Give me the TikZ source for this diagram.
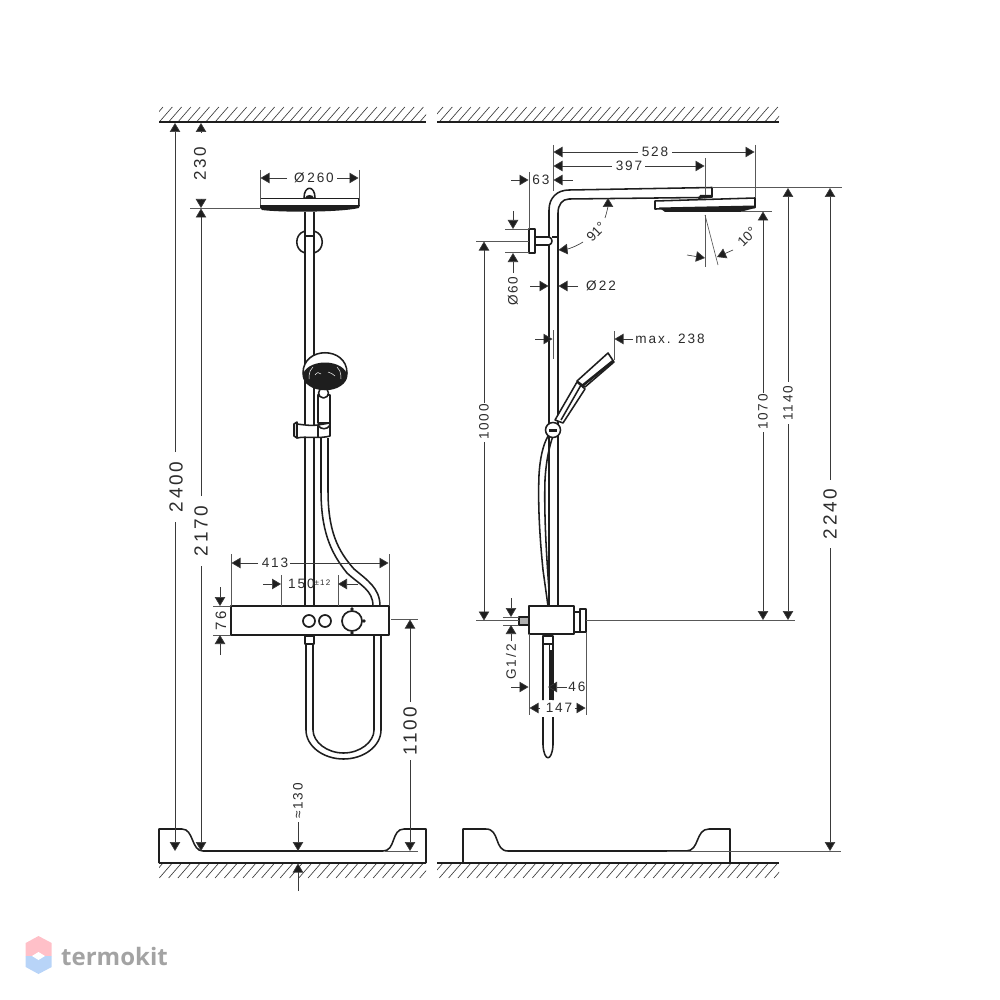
\documentclass[tikz,border=0pt]{standalone}
\usepackage{fontspec}
\setmainfont[LetterSpace=14]{Liberation Sans}
\newfontfamily\markfont{Open Sans}
\usetikzlibrary{arrows.meta}
\definecolor{ink}{HTML}{1E1E1E}
\definecolor{dimc}{HTML}{3A3A3A}
\definecolor{txt}{HTML}{2C2C2C}
\definecolor{markpink}{HTML}{FFC0C8}
\definecolor{markblue}{HTML}{B8D4F8}
\tikzset{
  obj/.style={draw=ink,line width=1.55pt,line join=round},
  dim/.style={draw=dimc,line width=.65pt},
  ext/.style={draw=dimc!85,line width=.65pt},
  arr/.style={dim,arrows={-Triangle[length=9pt,width=10.5pt,fill=ink]}},
  hatch/.style={draw=dimc,line width=.65pt},
  lab/.style={inner sep=0pt,text=txt,font=\fontsize{13.6}{14}\selectfont},
  big/.style={inner sep=0pt,text=txt,font=\fontsize{19}{19}\selectfont},
  mid/.style={inner sep=0pt,text=txt,font=\fontsize{17}{17}\selectfont},
}
\begin{document}
\begin{tikzpicture}[x=1pt,y=-1pt]
\useasboundingbox (0,0) rectangle (1000,1000);
% ---- ceilings and floors
\begin{scope}
\clip (159,107) rectangle (426,122);
\foreach \x in {150,159.3,...,430} \draw[hatch] (\x,122) -- (\x+13,107);
\end{scope}
\begin{scope}
\clip (437,107) rectangle (779,122);
\foreach \x in {430,439.3,...,785} \draw[hatch] (\x,122) -- (\x+13,107);
\end{scope}
\begin{scope}
\clip (159,863) rectangle (426,878);
\foreach \x in {150,159.3,...,430} \draw[hatch] (\x,878) -- (\x+13,863);
\end{scope}
\begin{scope}
\clip (437,863) rectangle (779,878);
\foreach \x in {430,439.3,...,785} \draw[hatch] (\x,878) -- (\x+13,863);
\end{scope}
\draw[obj] (159,122) -- (426,122);
\draw[obj] (437,122) -- (779,122);
\draw[obj] (159,863) -- (426,863);
\draw[obj] (437,863) -- (779,863);
% basins
\draw[obj] (159,863) -- (159,829) -- (182,829) .. controls (194,829) and (191,851) .. (203,851)
  -- (383,851) .. controls (396,851) and (391,829) .. (404,829) -- (426,829) -- (426,863);
\draw[obj] (463,863) -- (463,829) -- (486,829) .. controls (500,829) and (494,851) .. (508,851)
  -- (686,851) .. controls (700,851) and (695,829) .. (709,829) -- (730,829) -- (730,863);

% ---- LEFT VIEW: rod and hoses
\draw[obj] (305,212) -- (305,606) (314,212) -- (314,606);
\draw[obj] (305,236) -- (314,236);
\draw[obj] (305,231) .. controls (294,234) and (294,250) .. (305,253);
\draw[obj] (314,231) .. controls (325,234) and (325,250) .. (314,253);
% hose upper
\draw[obj] (321,438) -- (321,490) .. controls (321,530) and (330,552) .. (347,573) .. controls (360,585) and (373,590) .. (373,606);
\draw[obj] (328,438) -- (328,490) .. controls (328,530) and (337,550) .. (354,569) .. controls (367,580) and (380,588) .. (380,606);
% hose loop
\draw[obj] (306,644) -- (306,730) .. controls (306,746) and (323,759) .. (343.5,759) .. controls (364,759) and (381,746) .. (381,730) -- (381,636);
\draw[obj] (313,644) -- (313,730) .. controls (313,742) and (327,753) .. (343.5,753) .. controls (360,753) and (374,742) .. (374,730) -- (374,636);
\draw[obj,fill=white] (305,636) rectangle (314,644);
% rain head front
\draw[obj,fill=white] (304,198) .. controls (304,185) and (315,185) .. (315,198);
\fill[ink] (305,198) .. controls (306,194) and (313,194) .. (314,198) -- cycle;
\draw[obj,fill=white] (260.5,198.5) rectangle (359,206);
\fill[ink] (260,205.5) -- (359,205.5) -- (359,208) .. controls (340,212.5) and (280,212.5) .. (262,210) -- (260,208) -- cycle;
% hand shower front
\draw[obj,fill=white] (318,395) rectangle (330,423);
\draw[obj,fill=white] (323.5,393) circle (5);
\draw[obj,fill=white] (303,373) .. controls (303,346) and (347,346) .. (347,373) .. controls (347,395) and (303,395) .. (303,373) -- cycle;
\fill[ink] (325,376) ellipse (22 and 13.5);
\draw[white,line width=.5pt] (315,375) .. controls (317,372) and (319,372) .. (321,374) (328,372) .. controls (331,373) and (333,374) .. (335,376)
  (309,379) .. controls (309,371) and (311,369) .. (313,367) (341,379) .. controls (341,371) and (339,369) .. (337,367);
% slider
\draw[obj,fill=white] (297,424) .. controls (305,425) and (312,426) .. (318,425) -- (330,423) -- (330,436) .. controls (320,439) and (305,436) .. (297,438) -- cycle;
\draw[obj,fill=ink!15] (297,422) -- (294,424) -- (294,436) -- (297,438) -- cycle;
\draw[obj] (318,425) .. controls (320,430) and (328,430) .. (330,425);
\draw[obj] (318,425) -- (318,437);
% thermostat front
\draw[obj,line width=1.7pt,fill=white] (231,606) rectangle (389,635);
\draw[obj,line width=1.7pt] (309,621) circle (6);
\draw[obj,line width=1.7pt] (325,621) circle (6);
\draw[obj,line width=1.7pt] (352,621) circle (10);
\fill[ink] (352,609) circle (1.8) (364,621) circle (1.8) (352,633) circle (1.8);

% ---- LEFT VIEW: dimensions
\draw[ext] (190,208) -- (260,208);
\node[big,rotate=90] (d2400) at (176,487) {2400};
\draw[arr] (175,452) -- (175,123);
\draw[arr] (175,522) -- (175,851);
\node[big,rotate=90] (d2170) at (201,531) {2170};
\draw[arr] (201,496) -- (201,208.5);
\draw[arr] (201,566) -- (201,851);
\node[mid,rotate=90] (d230) at (200,164) {230};
\draw[arr] (201,132) -- (201,123);
\draw[arr] (201,199) -- (201,208);
\draw[ext] (260,170) -- (260,205) (359,170) -- (359,205);
\node[lab] (d260) at (314,178) {Ø\hspace{2.5pt}260};
\draw[arr] (287,178) -- (260.5,178);
\draw[arr] (337,178) -- (358.5,178);
\draw[ext] (231,554) -- (231,606) (389,554) -- (389,606);
\node[lab] (d413) at (275,563) {413};
\draw[arr] (258,563) -- (231.5,563);
\draw[arr] (290,563) -- (388.5,563);
\draw[ext] (281,575) -- (281,606) (338,575) -- (338,606);
\node[lab,anchor=west] (d150) at (288,584) {150\raisebox{3.5pt}{\fontsize{8}{8}\selectfont ±12}};
\draw[arr] (263,584) -- (281,584);
\draw[arr] (358,584) -- (338,584);
\draw[ext] (213,606) -- (231,606) (213,635) -- (231,635);
\draw[arr] (220,587) -- (220,606);
\draw[arr] (220,655) -- (220,635);
\node[lab,font=\fontsize{15}{15}\selectfont,rotate=90] (d76) at (221,621) {76};
\draw[ext] (391,619) -- (418,619) (385,851) -- (418,851);
\node[big,rotate=90] (d1100) at (410,731) {1100};
\draw[arr] (410,702) -- (410,619.5);
\draw[arr] (410,760) -- (410,851);
\node[lab,rotate=90] (d130) at (298,801) {≈130};
\draw[arr] (298,822) -- (298,851);
\draw[arr] (298,891) -- (298,863.5);

% ---- RIGHT VIEW: column
\draw[obj] (549,210) .. controls (549,198) and (557,190) .. (569,190) -- (712,187.5) -- (712,197) -- (700,197.5) -- (569,199) .. controls (562,199) and (558,205) .. (558,213) -- (558,606);
\draw[obj] (549,210) -- (549,606);
\fill[ink] (700,195) -- (712,195) -- (712,197.5) -- (698,199) -- cycle;
% rain head side
\draw[obj,fill=white] (655,201) -- (755,198) -- (755,207.5) -- (655,209) -- cycle;
\fill[ink] (659,207.5) -- (755,205.5) -- (755,208) -- (740,212) -- (665,212) -- cycle;
% wall mount
\draw[obj,fill=white] (535,237) -- (549,237) .. controls (553,238) and (553,244) .. (549,245) -- (535,245) -- cycle;
\draw[obj] (552,237) -- (558,237);
\draw[obj,fill=white] (529,229) rectangle (535,253);
% hose right
\draw[obj] (543,570) .. controls (539,530) and (538,500) .. (539,475) .. controls (540,458) and (543,445) .. (548,436);
\draw[obj] (549,590) .. controls (546,550) and (544,510) .. (545,480) .. controls (546,462) and (549,447) .. (553,436);
\draw[obj] (543,570) -- (548,606);
% handshower side
\draw[obj,fill=white] (555,420) -- (577,382) -- (585,389) -- (563,423) -- cycle;
\draw[obj] (561,420) -- (581,385);
\draw[obj,fill=white] (577,381) -- (608,353) -- (614,362) -- (585,387) -- cycle;
\draw[ink,line width=2.6pt] (582,386) -- (613,361);
\draw[obj,fill=white] (553,430) circle (7.5);
\fill[ink] (549,428.7) rectangle (557,431.5);
% mixer side
\draw[obj,line width=1.7pt,fill=white] (529,606) rectangle (574,634);
\draw[obj,fill=ink!35] (519,617) rectangle (529,625);
\draw[obj] (574,612) rectangle (580,632);
\draw[obj] (580,609) rectangle (586,632);
\draw[obj,fill=white] (543,636) rectangle (553,644);
% lower hose
\draw[obj] (543,644) -- (543,700) (543,717) -- (543,745) .. controls (544,762) and (552,762) .. (553,745) -- (553,717) (553,644) -- (553,700);
\draw[obj,line width=.9pt] (549,644) -- (549,700);
\draw[obj] (551,650) -- (551,700);

% ---- RIGHT VIEW: dimensions
\draw[ext] (712,187.5) -- (842,187.5);
\draw[ext] (741,211) -- (772,211);
\draw[ext] (667,851) -- (841,851);
\draw[ext] (476,241) -- (529,241);
\draw[ext] (476,620.5) -- (519,620.5);
\draw[ext] (586,620.5) -- (795,620.5);
\draw[ext] (553,145) -- (553,191);
\draw[ext] (755,145) -- (755,198);
\draw[ext] (705,158) -- (705,195);
\node[lab] (d528) at (655,152) {528};
\draw[arr] (638,152) -- (553.5,152);
\draw[arr] (672,152) -- (754.5,152);
\node[lab] (d397) at (629,166) {397};
\draw[arr] (612,166) -- (553.5,166);
\draw[arr] (645,166) -- (704.5,166);
\draw[ext] (529,172) -- (529,229);
\node[lab] (d63) at (541,180) {63};
\draw[arr] (511,180) -- (528.5,180);
\draw[arr] (573,180) -- (553.5,180);
% 60
\draw[ext] (505,229.5) -- (529,229.5) (505,252.5) -- (529,252.5);
\draw[arr] (513,211) -- (513,229);
\draw[arr] (513,273) -- (513,253);
\node[lab,rotate=90] (d60) at (513,291) {Ø\hspace{1.5pt}60};
% 22
\draw[arr] (530,286) -- (548.5,286);
\draw[arr] (578,286) -- (558.5,286);
\node[lab] (d22) at (601,286) {Ø\hspace{2pt}22};
% 1000
\node[lab,rotate=90] (d1000) at (484,422) {1000};
\draw[arr] (484,403) -- (484,241.5);
\draw[arr] (484,442) -- (484,620.5);
% 1070
\node[lab,rotate=90] (d1070) at (763,412) {1070};
\draw[arr] (763,393) -- (763,211.5);
\draw[arr] (763,432) -- (763,620);
% 1140
\node[lab,rotate=90] (d1140) at (788,403) {1140};
\draw[arr] (788,382) -- (788,188);
\draw[arr] (788,424) -- (788,620);
% 2240
\node[big,rotate=90] (d2240) at (830,514) {2240};
\draw[arr] (830,480) -- (830,188);
\draw[arr] (830,548) -- (830,851);
% 91
\node[lab,rotate=45] (d91) at (596,232) {\addfontfeature{LetterSpace=0}91°};
\draw[arr] (583,242) .. controls (575,247) and (568,249) .. (558.5,250);
\draw[arr] (605,218) .. controls (607,212) and (608,206) .. (608,198);
% 10
\draw[ext] (705,215) -- (705,267);
\draw[ext] (705,215) -- (718,265);
\draw[arr] (687,255) -- (705,258);
\draw[arr] (733,250) -- (717,257);
\node[lab,rotate=45] (d10) at (747,237) {\addfontfeature{LetterSpace=0}10°};
% max 238
\draw[ext] (614,331) -- (614,360);
\draw[arr] (633,339) -- (614.5,339);
\node[lab] (dmax) at (670,339) {max. 238};
\draw[ext] (553,330) -- (553,359);
\draw[arr] (535,339) -- (552.5,339);
% G1/2
\draw[ext] (503,617) -- (519,617) (503,625) -- (519,625);
\draw[arr] (511,598) -- (511,617);
\draw[arr] (511,641) -- (511,625);
\node[lab,rotate=90] (dg) at (511,662) {G1/2};
% 46
\draw[arr] (511,687) -- (528.5,687);
\draw[arr] (567,687) -- (548,687);
\node[lab] (d46) at (577,687) {46};
% 147
\draw[ext] (529,634) -- (529,715) (586,632) -- (586,715);
\draw[arr] (540,708) -- (529.5,708);
\draw[arr] (575,708) -- (585.5,708);
\node[lab] (d147) at (559,708) {147};

% ---- watermark
\fill[markpink] (25.7,943) -- (38.5,936) -- (51.7,943) -- (51.7,956) -- (25.7,956) -- cycle;
\fill[markblue] (25.7,956) -- (51.7,956) -- (51.7,967) -- (38.5,974) -- (25.7,967) -- cycle;
\fill[white] (32,956) -- (38.5,952) -- (45,956) -- (38.5,960) -- cycle;
\node[inner sep=0pt,anchor=west,text=black!36,font=\markfont\bfseries\fontsize{24}{24}\selectfont] (brand) at (61,956) {termokit};
\end{tikzpicture}
\end{document}
